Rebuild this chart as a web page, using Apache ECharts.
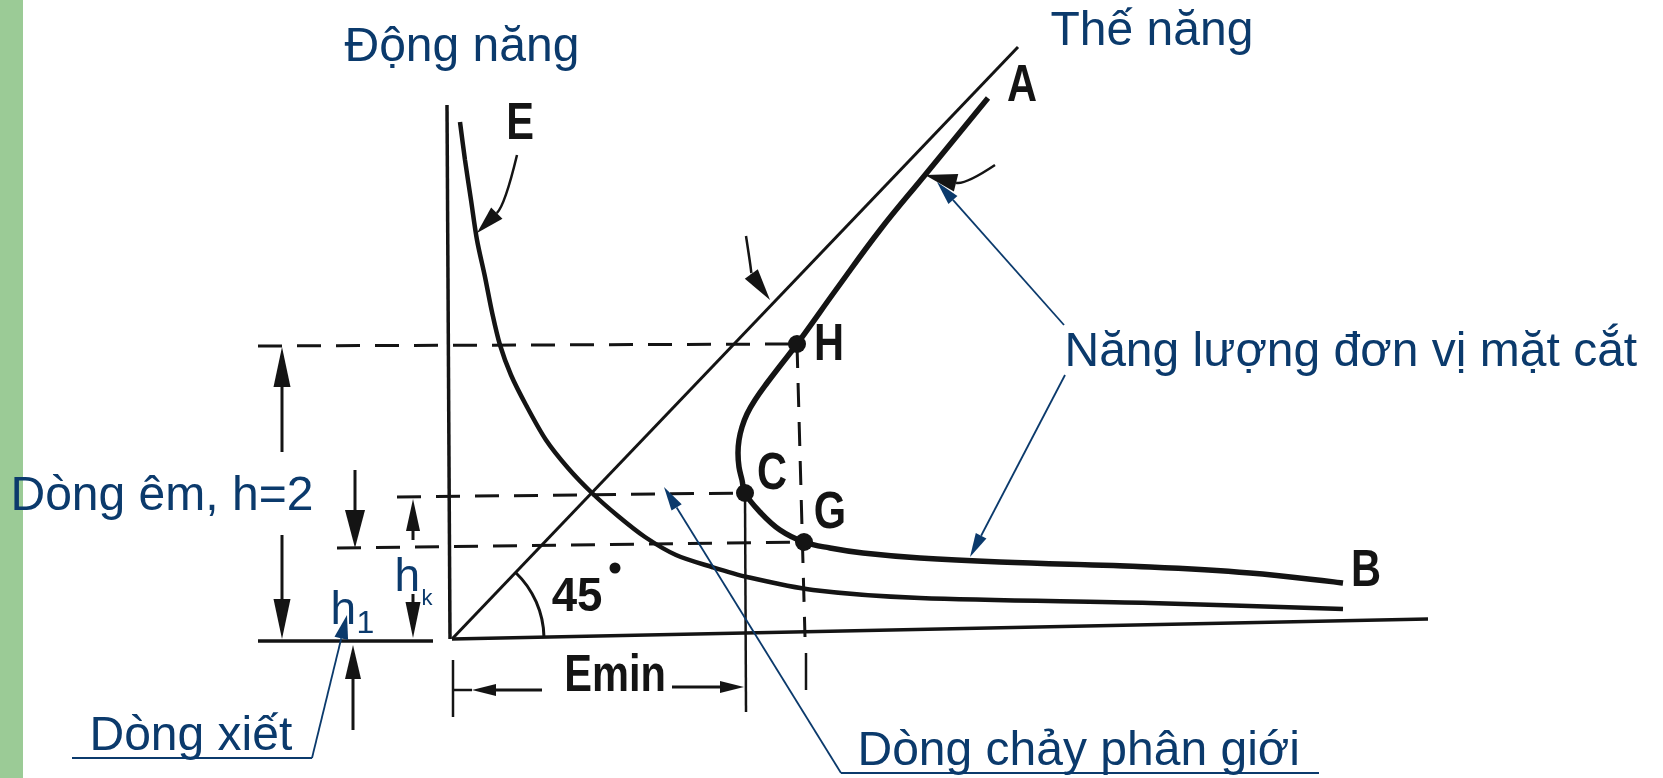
<!DOCTYPE html>
<html>
<head>
<meta charset="utf-8">
<title>Năng lượng đơn vị mặt cắt</title>
<script src="https://cdn.jsdelivr.net/npm/echarts@6/dist/echarts.min.js"></script>
<style>
html,body{margin:0;padding:0;background:#fff;}
#main{width:1663px;height:778px;}
</style>
</head>
<body>
<div id="main"></div>
<script>
// x = năng lượng E, y = độ sâu h (gốc ở góc hai trục)
const eCurve = [[0.08,5.17],[0.13,4.79],[0.19,4.39],[0.25,3.99],[0.33,3.62],[0.40,3.27],[0.48,2.94],
  [0.59,2.64],[0.74,2.34],[0.94,1.99],[1.16,1.71],[1.40,1.46],[1.66,1.23],[1.93,1.02],[2.24,0.84],
  [2.60,0.72],[2.95,0.62],[3.61,0.49],[4.68,0.41],[6.98,0.36],[8.91,0.30]];
const sCurve = [[5.36,5.41],[4.73,4.64],[4.28,4.09],[3.86,3.52],[3.45,2.95],[3.28,2.73],[3.15,2.56],
  [3.03,2.39],[2.95,2.25],[2.90,2.12],[2.87,1.99],[2.86,1.86],[2.87,1.72],[2.90,1.59],[2.93,1.46],
  [3.08,1.27],[3.28,1.09],[3.52,0.97],[3.78,0.91],[4.11,0.86],[4.68,0.81],[5.48,0.77],[6.98,0.72],
  [7.98,0.66],[8.91,0.56]];
const potLine = [[0,0],[5.66,5.92]];
const axisV = [[-0.05,5.34],[-0.02,0]];
const axisH = [[0,0],[9.76,0.20]];
const baseLeft = [[-1.94,-0.02],[-0.19,-0.02]];
const solidBits = [
  [[2.93,1.46],[2.94,-0.73]],   // từ C xuống
  [[0.01,-0.21],[0.01,-0.78]],  // vạch trái Emin
  [[3.54,-0.14],[3.54,-0.51]],  // vạch dưới G
  [[0.20,-0.51],[0.02,-0.51]]
];
const dashed = [
  [[-1.94,2.93],[3.45,2.95]],
  [[-0.55,1.42],[2.93,1.46]],
  [[-1.15,0.91],[3.52,0.97]],
  [[3.45,2.95],[3.53,0.02]]
];
const pointsHCG = [[3.45,2.95],[2.93,1.46],[3.52,0.97]];
const degreeDot = [[1.63,0.71]];
const arc45 = [[0,0,0.92]];

// [x1,y1,x2,y2,head length px, head half width px]
const blackArrows = [
  [-1.70,1.87,-1.70,2.92,40,8.5],
  [-1.70,1.04,-1.70,0.00,40,8.5],
  [-0.97,1.69,-0.97,0.91,38,10],
  [-0.99,-0.91,-0.99,-0.06,34,8],
  [-0.39,0.99,-0.39,1.40,32,7],
  [-0.39,0.45,-0.39,0.01,36,7.5],
  [0.90,-0.51,0.20,-0.51,24,6],
  [2.20,-0.48,2.92,-0.48,24,6]
];
// [x0,y0,cx,cy,x2,y2,len,hw]
const curvedArrows = [
  [0.65,4.84,0.53,4.34,0.25,4.06,28,8],
  [5.43,4.74,5.13,4.54,4.73,4.64,32,9],
  [2.94,4.03,3.00,3.64,3.18,3.39,32,8]
];
const blueArrows = [
  [-1.40,-1.19,-1.05,0.24,24,7],
  [3.89,-1.34,2.12,1.52,24,6],
  [6.12,3.14,4.85,4.57,24,6],
  [6.13,2.64,5.18,0.82,24,6]
];
const blueUnderlines = [
  [[-3.80,-1.19],[-1.40,-1.19]],
  [[3.89,-1.34],[8.67,-1.34]]
];

// nhãn: [text, x trái, y giữa]
const blueTexts = [
  ['Động năng',-1.08,5.91],
  ['Thế năng',5.98,6.07],
  ['Năng lượng đơn vị mặt cắt',6.12,2.86],
  ['Dòng êm, h=2',-4.42,1.42],
  ['Dòng xiết',-3.63,-0.98],
  ['Dòng chảy phân giới',4.05,-1.13]
];
const blueSmall = [
  ['h',-0.58,0.61,46],
  ['k',-0.31,0.40,22],
  ['h',-1.22,0.28,46],
  ['1',-0.96,0.15,32]
];
// chữ trên hình: [text, x giữa, y giữa, cỡ chữ, co ngang]
const figLetters = [
  ['E',0.68,5.14,52,0.8],['A',5.70,5.52,52,0.8],['H',3.77,2.93,52,0.8],['C',3.20,1.64,52,0.8],
  ['G',3.78,1.25,52,0.8],['B',9.14,0.67,52,0.8],['45',1.25,0.41,48,0.95],['Emin',1.63,-0.38,52,0.8]
];

const INK = '#141414';
const NAVY = '#0b3a6c';
const chart = echarts.init(document.getElementById('main'));

function line(data, w, color, type, smooth) {
  return {
    type: 'line', data: data, showSymbol: false, symbol: 'none', smooth: smooth || false,
    lineStyle: { color: color || INK, width: w, type: type || 'solid', cap: 'butt', opacity: 1 },
    silent: true, animation: false, z: 3
  };
}

function headPts(tip, ux, uy, len, hw) {
  const bx = tip[0] - ux * len, by = tip[1] - uy * len;
  return { base: [bx, by], pts: [tip, [bx - uy * hw, by + ux * hw], [bx + uy * hw, by - ux * hw]] };
}

function straightArrow(color, width) {
  return function (params, api) {
    const p1 = api.coord([api.value(0), api.value(1)]);
    const p2 = api.coord([api.value(2), api.value(3)]);
    const dx = p2[0] - p1[0], dy = p2[1] - p1[1];
    const d = Math.hypot(dx, dy);
    const h = headPts(p2, dx / d, dy / d, api.value(4), api.value(5));
    return { type: 'group', children: [
      { type: 'line', shape: { x1: p1[0], y1: p1[1], x2: h.base[0], y2: h.base[1] },
        style: { stroke: color, lineWidth: width } },
      { type: 'polygon', shape: { points: h.pts }, style: { fill: color } }
    ] };
  };
}

function curvedArrow(params, api) {
  const p0 = api.coord([api.value(0), api.value(1)]);
  const c = api.coord([api.value(2), api.value(3)]);
  const p2 = api.coord([api.value(4), api.value(5)]);
  const dx = p2[0] - c[0], dy = p2[1] - c[1];
  const d = Math.hypot(dx, dy);
  const h = headPts(p2, dx / d, dy / d, api.value(6), api.value(7));
  return { type: 'group', children: [
    { type: 'bezierCurve', shape: { x1: p0[0], y1: p0[1], x2: h.base[0], y2: h.base[1], cpx1: c[0], cpy1: c[1] },
      style: { stroke: INK, lineWidth: 2.5, fill: null } },
    { type: 'polygon', shape: { points: h.pts }, style: { fill: INK } }
  ] };
}

const series = [];
// dải xanh bên trái
series.push({
  type: 'line', data: [], silent: true,
  markArea: { silent: true, itemStyle: { color: '#9bcb96', opacity: 1 },
    data: [[{ coord: [-4.52, -1.39] }, { coord: [-4.29, 6.39] }]] }
});
series.push(line(axisV, 3.5));
series.push(line(axisH, 3.5));
series.push(line(baseLeft, 3.5));
series.push(line(potLine, 3));
solidBits.forEach(s => series.push(line(s, 2.5)));
dashed.forEach(s => series.push(line(s, 3, INK, [24, 15])));
series.push(line(eCurve, 4.5, INK, 'solid', 0.3));
series.push(line(sCurve, 5.5, INK, 'solid', 0.4));
blueUnderlines.forEach(s => series.push(line(s, 2, NAVY)));

series.push({ type: 'custom', data: blackArrows, renderItem: straightArrow(INK, 3), clip: false, silent: true, z: 4 });
series.push({ type: 'custom', data: curvedArrows, renderItem: curvedArrow, clip: false, silent: true, z: 4 });
series.push({ type: 'custom', data: blueArrows, renderItem: straightArrow(NAVY, 1.8), clip: false, silent: true, z: 6 });
series.push({
  type: 'custom', data: arc45, clip: false, silent: true, z: 4,
  renderItem: function (params, api) {
    const o = api.coord([api.value(0), api.value(1)]);
    const r = api.size([api.value(2), 0])[0];
    const top = api.coord(potLine[1]);
    const end = api.coord(axisH[1]);
    const a0 = Math.atan2(top[1] - o[1], top[0] - o[0]);
    const a1 = Math.atan2(end[1] - o[1], end[0] - o[0]);
    return { type: 'arc', shape: { cx: o[0], cy: o[1], r: r, startAngle: a0, endAngle: a1, clockwise: true },
      style: { stroke: INK, lineWidth: 3, fill: null } };
  }
});
series.push({ type: 'scatter', data: pointsHCG, symbolSize: 18, itemStyle: { color: INK, opacity: 1 }, silent: true, z: 5 });
series.push({ type: 'scatter', data: degreeDot, symbolSize: 11, itemStyle: { color: INK, opacity: 1 }, silent: true, z: 5 });

// chữ trên hình vẽ (co ngang giống chữ in hẹp của bản quét)
series.push({
  type: 'custom', clip: false, silent: true, z: 7,
  data: figLetters.map(t => [t[1], t[2]]),
  renderItem: function (params, api) {
    const t = figLetters[params.dataIndex];
    const p = api.coord([api.value(0), api.value(1)]);
    return { type: 'text', x: p[0], y: p[1], scaleX: t[4], scaleY: 1,
      style: { text: t[0], x: 0, y: 0, fill: INK, align: 'center', verticalAlign: 'middle',
        font: 'bold ' + t[3] + 'px "Liberation Sans", Arial, sans-serif' } };
  }
});

function textSeries(items, extra) {
  return {
    type: 'scatter', symbolSize: 1, itemStyle: { color: 'rgba(255,255,255,0)', opacity: 1 },
    silent: true, z: 8, data: items,
    label: Object.assign({ show: true, position: 'right', distance: 0, formatter: '{b}', color: NAVY,
      opacity: 1, fontFamily: '"Liberation Sans", Arial, sans-serif' }, extra)
  };
}
series.push(textSeries(blueTexts.map(t => ({ name: t[0], value: [t[1], t[2]] })), { fontSize: 48 }));
series.push(textSeries(blueSmall.map(t => ({ name: t[0], value: [t[1], t[2]], label: { fontSize: t[3] } })), {}));

chart.setOption({
  animation: false,
  backgroundColor: '#ffffff',
  grid: { left: 0, right: 0, top: 0, bottom: 0 },
  xAxis: { type: 'value', min: -4.52, max: 12.11, show: false },
  yAxis: { type: 'value', min: -1.39, max: 6.39, show: false },
  series: series
});
</script>
</body>
</html>
